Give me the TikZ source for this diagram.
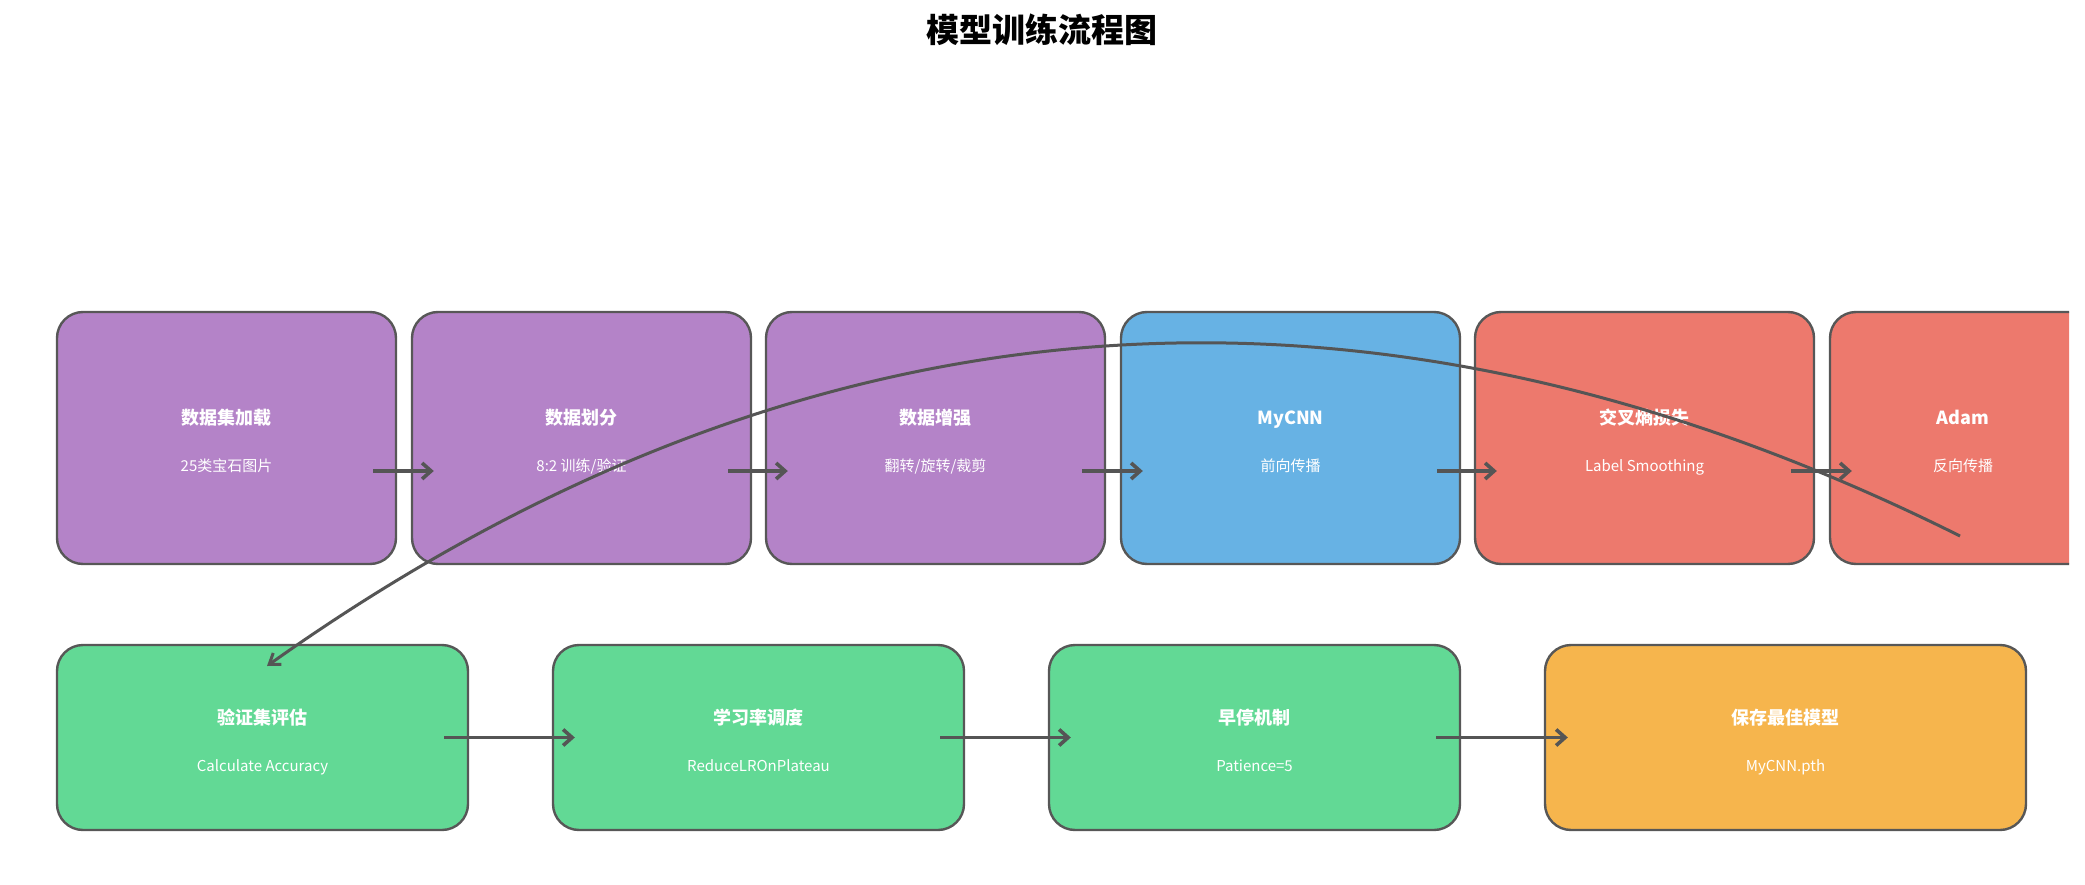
\documentclass[tikz,border=0pt]{standalone}
\usepackage{fontspec}
\setmainfont{Noto Sans CJK SC}
\usetikzlibrary{arrows.meta,calc}
\definecolor{cpurple}{HTML}{B483C8}
\definecolor{cblue}{HTML}{67B2E4}
\definecolor{cred}{HTML}{ED796D}
\definecolor{cgreen}{HTML}{62D995}
\definecolor{corange}{HTML}{F6B54D}
\definecolor{cedge}{HTML}{575757}
\definecolor{carrow}{HTML}{555555}
\tikzset{
  box/.style={draw=cedge, line width=2.4pt, rounded corners=26pt, inner sep=0pt},
  topbox/.style={box, minimum width=339pt, minimum height=252pt},
  botbox/.style={box, minimum width=411pt, minimum height=185pt},
  ttl/.style={text=white, font=\fontsize{18}{20}\selectfont\bfseries, inner sep=0pt, text height=15pt, text depth=3pt},
  sub/.style={text=white, font=\fontsize{15}{17}\selectfont, inner sep=0pt, text height=12.5pt, text depth=2.5pt},
  arr/.style={draw=carrow, line width=3.6pt, -{Straight Barb[length=9pt,width=16pt,line width=3.6pt]}},
  curv/.style={draw=carrow, line width=3pt, -{Straight Barb[length=10pt,width=14pt,line width=3pt]}}
}
\begin{document}
\begin{tikzpicture}[x=1pt,y=-1pt]
\useasboundingbox (0,0) rectangle (2085,885);
\node[font=\fontsize{33}{35}\selectfont\bfseries, inner sep=0pt] (title) at (1042,30) {模型训练流程图};
% top row
\node[topbox, fill=cpurple] (b1) at (226.5,438) {};
\node[topbox, fill=cpurple] (b2) at (581.5,438) {};
\node[topbox, fill=cpurple] (b3) at (935.5,438) {};
\node[topbox, fill=cblue] (b4) at (1290.5,438) {};
\node[topbox, fill=cred] (b5) at (1644.5,438) {};
\begin{scope}
\clip (0,0) rectangle (2069,885);
\node[topbox, fill=cred] (b6) at (1999.5,438) {};
\end{scope}
% bottom row
\node[botbox, fill=cgreen] (b7) at (262.5,737.5) {};
\node[botbox, fill=cgreen] (b8) at (758.5,737.5) {};
\node[botbox, fill=cgreen] (b9) at (1254.5,737.5) {};
\node[botbox, fill=corange, minimum width=481pt] (b10) at (1785.5,737.5) {};
% texts
\node[ttl] (t1) at (226.5,418) {数据集加载};
\node[sub] (s1) at (226.5,466) {25类宝石图片};
\node[ttl] (t2) at (581.5,418) {数据划分};
\node[sub] (s2) at (581.5,466) {8:2 训练/验证};
\node[ttl] (t3) at (935.5,418) {数据增强};
\node[sub] (s3) at (935.5,466) {翻转/旋转/裁剪};
\node[ttl] (t4) at (1290.5,418) {MyCNN};
\node[sub] (s4) at (1290.5,466) {前向传播};
\node[ttl] (t5) at (1644.5,418) {交叉熵损失};
\node[sub] (s5) at (1644.5,466) {Label Smoothing};
\node[ttl] (t6) at (1963,418) {Adam};
\node[sub] (s6) at (1963,466) {反向传播};
\node[ttl] (t7) at (262.5,718) {验证集评估};
\node[sub] (s7) at (262.5,766) {Calculate Accuracy};
\node[ttl] (t8) at (758.5,718) {学习率调度};
\node[sub] (s8) at (758.5,766) {ReduceLROnPlateau};
\node[ttl] (t9) at (1254.5,718) {早停机制};
\node[sub] (s9) at (1254.5,766) {Patience=5};
\node[ttl] (t10) at (1785.5,718) {保存最佳模型};
\node[sub] (s10) at (1785.5,766) {MyCNN.pth};
% top arrows
\draw[arr] ([shift={(-24,33)}]b1.east) -- ([shift={(23,33)}]b2.west);
\draw[arr] ([shift={(-24,33)}]b2.east) -- ([shift={(23,33)}]b3.west);
\draw[arr] ([shift={(-24,33)}]b3.east) -- ([shift={(23,33)}]b4.west);
\draw[arr] ([shift={(-24,33)}]b4.east) -- ([shift={(23,33)}]b5.west);
\draw[arr] ([shift={(-24,33)}]b5.east) -- ([shift={(23,33)}]b6.west);
% bottom arrows
\draw[arr, line width=3pt] ([shift={(-25,0)}]b7.east) -- ([shift={(23,0)}]b8.west);
\draw[arr, line width=3pt] ([shift={(-25,0)}]b8.east) -- ([shift={(23,0)}]b9.west);
\draw[arr, line width=3pt] ([shift={(-25,0)}]b9.east) -- ([shift={(24,0)}]b10.west);
% feedback curve
\coordinate (cs) at (1960,536);
\coordinate (ce) at (267,666);
\draw[curv] (cs) .. controls (1369,241) and (805,284) .. (ce);
\end{tikzpicture}
\end{document}
